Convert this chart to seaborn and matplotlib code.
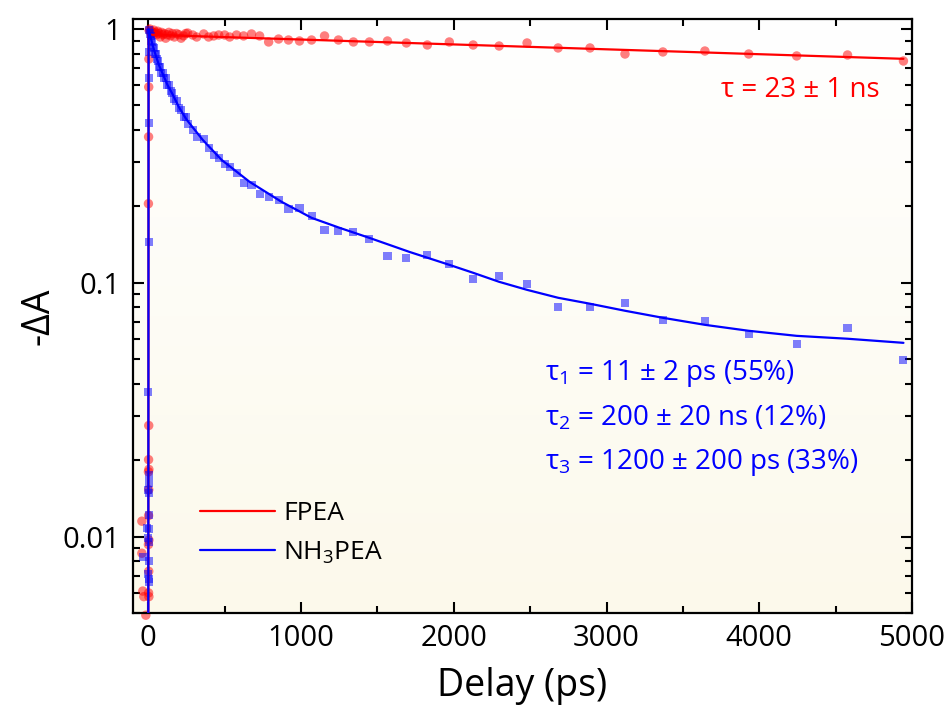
import numpy as np
import pandas as pd
import matplotlib
matplotlib.use("Agg")
import matplotlib.pyplot as plt
import seaborn as sns
from matplotlib.lines import Line2D

# ---------------- data ----------------
# delay times (ps) of the early part of the decay
early_t = [5, 10, 15, 20, 25, 30, 36, 42, 48, 55, 62, 70, 78, 86, 95, 104,
           114, 124, 135, 146, 158, 171, 185, 200, 215, 231, 245]
early_fpea = [0.99, 1.0, 0.97, 0.98, 0.96, 0.97, 0.99, 0.96, 0.97, 0.95, 0.98,
              0.96, 0.93, 0.97, 0.95, 0.96, 0.92, 0.95, 0.97, 0.94, 0.96, 0.93,
              0.96, 0.95, 0.92, 0.94, 0.96]
early_nh3 = [0.99, 0.96, 0.94, 0.90, 0.89, 0.85, 0.84, 0.80, 0.80, 0.76, 0.75,
             0.71, 0.71, 0.67, 0.67, 0.64, 0.64, 0.60, 0.60, 0.57, 0.56, 0.53,
             0.52, 0.49, 0.48, 0.45, 0.45]

# delay times (ps) of the later part
late_t = [258, 291, 317, 363, 395, 428, 461, 500, 533, 578, 624, 676, 729, 788,
          853, 918, 990, 1069, 1154, 1245, 1343, 1448, 1566, 1690, 1827, 1971,
          2127, 2297, 2480, 2683, 2892, 3121, 3369, 3644, 3931, 4245, 4578, 4944]
late_fpea = [0.964, 0.947, 0.930, 0.956, 0.930, 0.939, 0.947, 0.947, 0.930,
             0.947, 0.939, 0.956, 0.939, 0.889, 0.913, 0.905, 0.897, 0.905,
             0.939, 0.905, 0.889, 0.889, 0.897, 0.881, 0.865, 0.889, 0.865,
             0.857, 0.881, 0.842, 0.842, 0.797, 0.812, 0.819, 0.797, 0.783,
             0.790, 0.748]
late_nh3 = [0.423, 0.400, 0.376, 0.369, 0.340, 0.319, 0.311, 0.294, 0.286,
            0.271, 0.248, 0.243, 0.224, 0.218, 0.212, 0.1955, 0.1974, 0.1836,
            0.1617, 0.1602, 0.1588, 0.149, 0.1277, 0.1254, 0.1289, 0.1188,
            0.1037, 0.1066, 0.0991, 0.0805, 0.0805, 0.0834, 0.0715, 0.0708,
            0.0630, 0.0575, 0.0665, 0.0498]

# points on the rising edge around time zero
rise_t_fpea = [4, 3, 2, 1, 3, 2, 4, 1, 3, 2, -42, 4, 1, -42, 3, -36, 2, -29, 4, -16]
rise_fpea = [0.762, 0.591, 0.376, 0.205, 0.0274, 0.0201, 0.0184, 0.0180,
             0.0153, 0.0121, 0.0115, 0.0097, 0.0093, 0.0086, 0.0073, 0.0061,
             0.0060, 0.0058, 0.0058, 0.0049]
rise_t_nh3 = [4, 3, 3, 2, 1, 2, 3, 1, 2, 3, -10, 2, 1, 3, -36, 2, 1, 3, 2]
rise_nh3 = [0.812, 0.641, 0.427, 0.145, 0.0372, 0.0175, 0.0162, 0.0153,
            0.0149, 0.0122, 0.0108, 0.0107, 0.0099, 0.0095, 0.0083, 0.0080,
            0.0071, 0.0068, 0.0066]

# fitted curves
fit_t_fpea = [0, 2, 4944]
fit_fpea = [0.003, 0.95, 0.763]
fit_t_nh3 = [0, 2, 5, 10, 20, 30, 48, 70, 95, 127, 158, 200, 245, 258, 356, 480,
             663, 873, 1069, 1252, 1448, 1709, 1971, 2127, 2297, 2480, 2683,
             2892, 3121, 3369, 3644, 3931, 4245, 4578, 4944]
fit_nh3 = [0.003, 1.0, 0.973, 0.955, 0.905, 0.857, 0.79, 0.721, 0.665, 0.60,
           0.555, 0.493, 0.445, 0.434, 0.366, 0.305, 0.250, 0.2084, 0.1803,
           0.1647, 0.1503, 0.1324, 0.1177, 0.1095, 0.1009, 0.0938, 0.0873,
           0.0827, 0.0776, 0.0728, 0.0683, 0.0647, 0.0618, 0.0602, 0.0580]

x_ticks = [0, 1000, 2000, 3000, 4000, 5000]
y_ticks = [0.01, 0.1, 1]
y_ticklabels = ["0.01", "0.1", "1"]

# ---------------- styling ----------------
sns.set_style("ticks")
plt.rcParams["font.family"] = ["Open Sans", "DejaVu Sans"]
plt.rcParams["mathtext.fontset"] = "custom"
plt.rcParams["mathtext.rm"] = "Open Sans"
plt.rcParams["mathtext.it"] = "Open Sans"
plt.rcParams["mathtext.default"] = "regular"
for k in ["text.color", "axes.labelcolor", "xtick.color", "ytick.color",
          "xtick.labelcolor", "ytick.labelcolor"]:
    plt.rcParams[k] = "black"

fpea_df = pd.DataFrame({"t": rise_t_fpea + early_t + late_t,
                        "v": rise_fpea + early_fpea + late_fpea})
nh3_df = pd.DataFrame({"t": rise_t_nh3 + early_t + late_t,
                       "v": rise_nh3 + early_nh3 + late_nh3})
fit_fpea_df = pd.DataFrame({"t": fit_t_fpea, "v": fit_fpea})
fit_nh3_df = pd.DataFrame({"t": fit_t_nh3, "v": fit_nh3})

W, H = 949, 713
fig = plt.figure(figsize=(W / 100, H / 100), dpi=100)
pos = [133 / W, 1 - 613 / H, (912 - 133) / W, (613 - 19) / H]

# gradient background
bg = fig.add_axes(pos, zorder=0)
top = np.array([255, 255, 255]) / 255
bot = np.array([252, 249, 235]) / 255
frac = np.linspace(0, 1, 256)[:, None]
grad = (top[None, :] * (1 - frac) + bot[None, :] * frac)[:, None, :]
bg.imshow(grad, aspect="auto", extent=[0, 1, 0, 1])
bg.axis("off")

ax = fig.add_axes(pos, zorder=1)
ax.patch.set_alpha(0)

sns.scatterplot(data=fpea_df, x="t", y="v", ax=ax, marker="o", s=46,
                color="red", alpha=0.5, edgecolor="none", linewidth=0,
                legend=False, clip_on=False, zorder=2)
sns.scatterplot(data=nh3_df, x="t", y="v", ax=ax, marker="s", s=34,
                color="blue", alpha=0.5, edgecolor="none", linewidth=0,
                legend=False, zorder=3)
sns.lineplot(data=fit_fpea_df, x="t", y="v", ax=ax, color="red", lw=1.6,
             sort=False, estimator=None, legend=False, zorder=4)
sns.lineplot(data=fit_nh3_df, x="t", y="v", ax=ax, color="blue", lw=1.6,
             sort=False, estimator=None, legend=False, zorder=5)

ax.set_yscale("log")
ax.set_xlim(-100, 4990)
ax.set_ylim(0.005, 1.095)
ax.set_xticks(x_ticks)
ax.set_xticks(np.arange(500, 5000, 1000), minor=True)
ax.set_yticks(y_ticks)
ax.set_yticklabels(y_ticklabels)
ax.tick_params(which="both", direction="in", top=True, right=True,
               width=1.5, colors="black", labelsize=21)
ax.tick_params(which="major", length=8)
ax.tick_params(which="minor", length=5)
ax.tick_params(axis="x", pad=8)
ax.tick_params(axis="y", pad=9)
for sp in ax.spines.values():
    sp.set_linewidth(1.6)
    sp.set_color("black")

ax.set_xlabel("Delay (ps)", fontsize=27, labelpad=10)
ax.set_ylabel("-ΔA", fontsize=27, labelpad=4)

# annotations
ax.text(0.755, 0.880, "τ = 23 ± 1 ns", color="red", fontsize=20,
        transform=ax.transAxes, va="center", ha="left")
blue_lines = ["τ$_1$ = 11 ± 2 ps (55%)", "τ$_2$ = 200 ± 20 ns (12%)",
              "τ$_3$ = 1200 ± 200 ps (33%)"]
for txt, yy in zip(blue_lines, [0.404, 0.328, 0.253]):
    ax.text(0.529, yy, txt, color="blue", fontsize=20,
            transform=ax.transAxes, va="center", ha="left")

handles = [Line2D([], [], color="red", lw=1.6),
           Line2D([], [], color="blue", lw=1.6)]
leg = ax.legend(handles, ["FPEA", "NH$_3$PEA"], loc="upper left",
                bbox_to_anchor=(0.086, 0.188), frameon=False, fontsize=19,
                handlelength=2.85, handletextpad=0.3, borderpad=0,
                borderaxespad=0, labelspacing=0.5)
for t in leg.get_texts():
    t.set_color("black")

fig.savefig("out.png", dpi=100)
